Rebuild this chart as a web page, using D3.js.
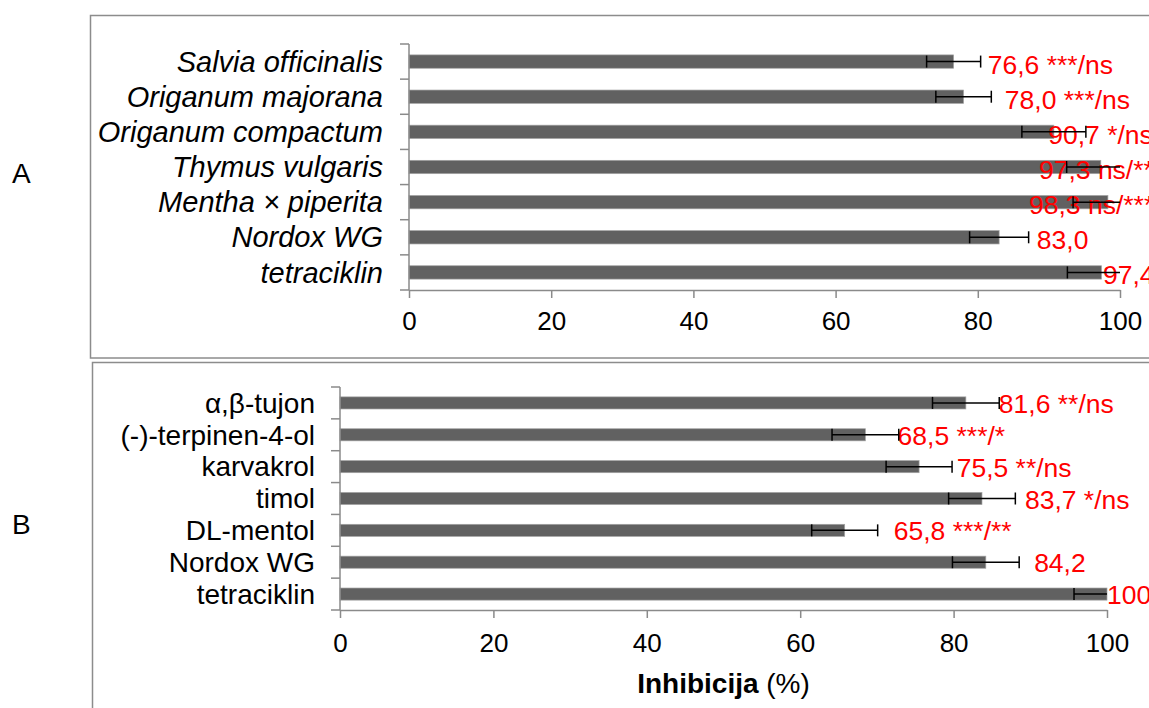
<!DOCTYPE html>
<html>
<head>
<meta charset="utf-8">
<script src="https://cdn.jsdelivr.net/npm/d3@7"></script>
<style>
  html, body { margin: 0; padding: 0; background: #fff; }
  svg { display: block; font-family: "Liberation Sans", Arial, sans-serif; }
</style>
</head>
<body>
<svg id="chart" width="1149" height="708"></svg>
<script>
// ---- Data ----
const categoriesA = ["Salvia officinalis", "Origanum majorana", "Origanum compactum", "Thymus vulgaris", "Mentha × piperita", "Nordox WG", "tetraciklin"];
const valuesA = [76.6, 78.0, 90.7, 97.3, 98.3, 83.0, 97.4];
const errorsA = [3.8, 3.9, 4.5, 4.8, 4.9, 4.15, 4.8];
const signifA = ["***/ns", "***/ns", "*/ns", "ns/**", "ns/***", "", ""];
const labelAtA = [81.4, 83.8, 89.9, 88.6, 87.2, 88.3, 97.6];

const categoriesB = ["α,β-tujon", "(-)-terpinen-4-ol", "karvakrol", "timol", "DL-mentol", "Nordox WG", "tetraciklin"];
const valuesB = [81.6, 68.5, 75.5, 83.7, 65.8, 84.2, 100];
const errorsB = [4.35, 4.35, 4.3, 4.35, 4.3, 4.35, 4.3];
const signifB = ["**/ns", "***/*", "**/ns", "*/ns", "***/**", "", ""];
const labelAtB = [85.9, 72.7, 80.4, 89.3, 72.2, 90.5, 100];

const xTicks = [0, 20, 40, 60, 80, 100];
const panelLetters = ["A", "B"];
const axisTitleBold = "Inhibicija";
const axisTitleRest = " (%)";

// ---- Drawing ----
const svg = d3.select("#chart");
svg.append("rect").attr("width", 1149).attr("height", 708).attr("fill", "#fff");

const fmt = v => (v === 100) ? "100" : d3.format(".1f")(v).replace(".", ",");

function panel(cfg) {
  const g = svg.append("g");
  g.append("rect")
    .attr("x", cfg.box[0]).attr("y", cfg.box[1])
    .attr("width", cfg.box[2]).attr("height", cfg.box[3])
    .attr("fill", "none").attr("stroke", "#8c8c8c").attr("stroke-width", 1.5);

  g.append("text").attr("x", 12).attr("y", cfg.letterY)
    .attr("font-size", 28).attr("fill", "#000").text(cfg.letter);

  const x = d3.scaleLinear().domain([0, 100]).range([cfg.x0, cfg.x1]);
  const y = d3.scaleBand().domain(cfg.cats).range([cfg.y0, cfg.y1])
    .paddingInner(0.62).paddingOuter(0.31);

  g.selectAll("rect.bar").data(cfg.vals).enter().append("rect")
    .attr("class", "bar")
    .attr("x", x(0))
    .attr("y", (d, i) => y(cfg.cats[i]))
    .attr("width", d => x(d) - x(0))
    .attr("height", y.bandwidth())
    .attr("fill", "#616161")
    .attr("stroke", "#a3a3a3").attr("stroke-width", 0.7);

  const axisColor = "#8a8a8a";
  g.append("line").attr("x1", x(0)).attr("x2", x(0))
    .attr("y1", cfg.y0).attr("y2", cfg.y1)
    .attr("stroke", axisColor).attr("stroke-width", 1.5);
  g.selectAll("line.ytick").data(d3.range(cfg.cats.length + 1)).enter().append("line")
    .attr("x1", x(0) - 9).attr("x2", x(0))
    .attr("y1", i => cfg.y0 + i * y.step()).attr("y2", i => cfg.y0 + i * y.step())
    .attr("stroke", axisColor).attr("stroke-width", 1.5);

  g.selectAll("text.cat").data(cfg.cats).enter().append("text")
    .attr("x", x(0) - cfg.labelGap)
    .attr("y", d => y(d) + y.bandwidth() / 2)
    .attr("dy", "0.35em")
    .attr("text-anchor", "end")
    .attr("font-size", cfg.catSize)
    .attr("font-style", cfg.italic ? "italic" : "normal")
    .attr("fill", "#000")
    .text(d => d);

  const xa = g.append("g").attr("transform", `translate(0,${cfg.y1})`)
    .call(d3.axisBottom(x).tickValues(xTicks).tickSizeInner(8).tickSizeOuter(0).tickPadding(cfg.tickPad));
  xa.select(".domain").attr("stroke", axisColor).attr("stroke-width", 1.5);
  xa.selectAll(".tick line").attr("stroke", axisColor).attr("stroke-width", 1.5);
  xa.selectAll(".tick text").attr("font-size", 26).attr("fill", "#000")
    .attr("font-family", "Liberation Sans, Arial, sans-serif");

  g.selectAll("text.val").data(cfg.vals).enter().append("text")
    .attr("x", (d, i) => x(cfg.labelAt[i]))
    .attr("y", (d, i) => y(cfg.cats[i]) + y.bandwidth() / 2 + cfg.labelDy)
    .attr("font-size", 26.5)
    .attr("fill", "#ff0000")
    .text((d, i) => fmt(d) + (cfg.sig[i] ? " " + cfg.sig[i] : ""));

  const capH = 12;
  cfg.vals.forEach((v, i) => {
    const cy = y(cfg.cats[i]) + y.bandwidth() / 2;
    const lo = v - cfg.errs[i], hi = v + cfg.errs[i];
    const hiC = Math.min(hi, 100);
    g.append("line").attr("x1", x(lo)).attr("x2", x(hiC)).attr("y1", cy).attr("y2", cy)
      .attr("stroke", "#000").attr("stroke-width", 1.5);
    g.append("line").attr("x1", x(lo)).attr("x2", x(lo)).attr("y1", cy - capH / 2).attr("y2", cy + capH / 2)
      .attr("stroke", "#000").attr("stroke-width", 1.5);
    if (hi <= 100) {
      g.append("line").attr("x1", x(hi)).attr("x2", x(hi)).attr("y1", cy - capH / 2).attr("y2", cy + capH / 2)
        .attr("stroke", "#000").attr("stroke-width", 1.5);
    }
  });

  return { x, y, g };
}

panel({
  box: [90.5, 15.5, 1080, 342.5], letter: panelLetters[0], letterY: 183,
  cats: categoriesA, vals: valuesA, errs: errorsA, sig: signifA, labelAt: labelAtA,
  x0: 409, x1: 1120, y0: 44, y1: 290, labelGap: 26, italic: true, catSize: 29, tickPad: 14, labelDy: 12
});

const pB = panel({
  box: [92.5, 362.5, 1080, 400], letter: panelLetters[1], letterY: 534,
  cats: categoriesB, vals: valuesB, errs: errorsB, sig: signifB, labelAt: labelAtB,
  x0: 340, x1: 1107, y0: 387, y1: 610, labelGap: 25, italic: false, catSize: 28, tickPad: 16, labelDy: 10
});

const t = svg.append("text")
  .attr("x", (pB.x(0) + pB.x(100)) / 2).attr("y", 693)
  .attr("text-anchor", "middle").attr("font-size", 28).attr("fill", "#000");
t.append("tspan").attr("font-weight", "bold").text(axisTitleBold);
t.append("tspan").text(axisTitleRest);
</script>
</body>
</html>
